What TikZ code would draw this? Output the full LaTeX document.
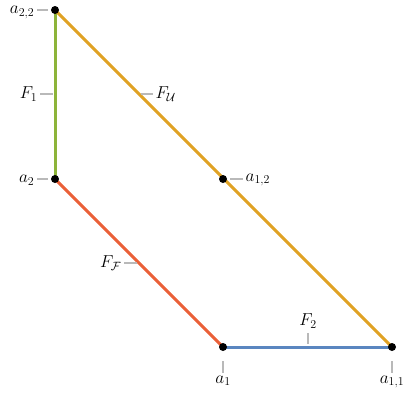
\documentclass[tikz,border=0pt]{standalone}
\usepackage{amsmath}
\begin{document}
\begin{tikzpicture}[x=1pt,y=-1pt,
  edge/.style={line width=3pt},
  tick/.style={draw=gray!55,line width=1.1pt},
  pt/.style={circle,fill=black,inner sep=0pt,minimum size=8pt},
  lbl/.style={inner sep=0.5pt,font=\fontsize{16.5}{19}\selectfont}]
\definecolor{cgreen}{RGB}{141,180,58}
\definecolor{corange}{RGB}{224,162,36}
\definecolor{cred}{RGB}{234,96,56}
\definecolor{cblue}{RGB}{90,134,192}
\useasboundingbox (0,0) rectangle (410,405);
\coordinate (a22) at (55,10);
\coordinate (a2) at (55,179);
\coordinate (a1) at (223,347);
\coordinate (a11) at (392,347);
\coordinate (a12) at (223,179);
\draw[edge,cgreen] (a22) -- (a2);
\draw[edge,corange] (a22) -- (a11);
\draw[edge,cred] (a2) -- (a1);
\draw[edge,cblue] (a1) -- (a11);
\node[pt] (p22) at (a22) {};
\node[pt] (p2) at (a2) {};
\node[pt] (p1) at (a1) {};
\node[pt] (p11) at (a11) {};
\node[pt] (p12) at (a12) {};
% labels
\coordinate (t22a) at (37,10); \coordinate (t22b) at (48,10);
\draw[tick] (t22a) -- (t22b);
\node[lbl,anchor=east] (l22) at (35,12.5) {$a_{2,2}$};
\coordinate (t2a) at (37,179); \coordinate (t2b) at (48,179);
\draw[tick] (t2a) -- (t2b);
\node[lbl,anchor=east] (l2) at (35,180) {$a_2$};
\coordinate (tF1a) at (40,94); \coordinate (tF1b) at (53,94);
\draw[tick] (tF1a) -- (tF1b);
\node[lbl,anchor=east] (lF1) at (38,94) {$F_1$};
\coordinate (tFUa) at (141,94); \coordinate (tFUb) at (153,94);
\draw[tick] (tFUa) -- (tFUb);
\node[lbl,anchor=west] (lFU) at (155,94) {$F_{\mathcal{U}}$};
\coordinate (t12a) at (230,179); \coordinate (t12b) at (243,179);
\draw[tick] (t12a) -- (t12b);
\node[lbl,anchor=west] (l12) at (245,180) {$a_{1,2}$};
\coordinate (tFFa) at (124,263); \coordinate (tFFb) at (137,263);
\draw[tick] (tFFa) -- (tFFb);
\node[lbl,anchor=east] (lFF) at (122,263) {$F_{\mathcal{F}}$};
\coordinate (tF2a) at (308,333); \coordinate (tF2b) at (308,344);
\draw[tick] (tF2a) -- (tF2b);
\node[lbl,anchor=south] (lF2) at (308,329) {$F_2$};
\coordinate (t1a) at (223,361); \coordinate (t1b) at (223,373);
\draw[tick] (t1a) -- (t1b);
\node[lbl,anchor=north] (l1) at (223,375) {$a_1$};
\coordinate (t11a) at (392,361); \coordinate (t11b) at (392,373);
\draw[tick] (t11a) -- (t11b);
\node[lbl,anchor=north] (l11) at (392,375) {$a_{1,1}$};
\end{tikzpicture}
\end{document}
